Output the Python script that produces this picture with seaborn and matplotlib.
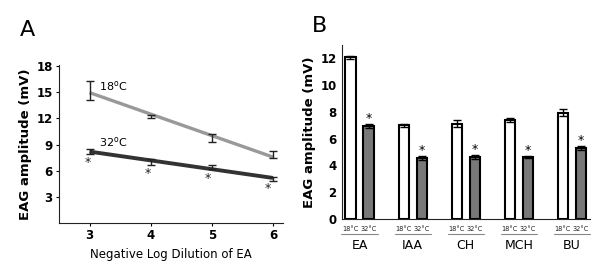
import numpy as np
import pandas as pd
import seaborn as sns
import matplotlib
matplotlib.use("Agg")
import matplotlib.pyplot as plt
import matplotlib.transforms as mtransforms
from matplotlib.container import BarContainer

# panel A: EAG vs dilution
dilution = [3, 4, 5, 6]
eag_18 = [15.25, 12.23, 9.75, 7.85]
err_18 = [1.1, 0.2, 0.45, 0.4]
eag_32 = [8.22, 7.02, 6.45, 5.05]
err_32 = [0.27, 0.33, 0.23, 0.2]
star_x_a = [2.97, 3.95, 4.93, 5.92]
star_y_a = [6.9, 5.73, 5.15, 4.0]

# panel B: odorants
odorants = ['EA', 'IAA', 'CH', 'MCH', 'BU']
temps = ['18°C', '32°C']
bar_18 = [12.08, 7.0, 7.12, 7.42, 7.95]
bar_err_18 = [0.1, 0.12, 0.25, 0.15, 0.25]
bar_32 = [6.95, 4.58, 4.65, 4.62, 5.3]
bar_err_32 = [0.15, 0.15, 0.15, 0.08, 0.15]

sns.set_style("ticks")
plt.rcParams['font.family'] = ['DejaVu Sans']
plt.rcParams.update({'text.color': 'black', 'axes.labelcolor': 'black',
                     'xtick.color': 'black', 'ytick.color': 'black',
                     'axes.edgecolor': '#222222'})

fig = plt.figure(figsize=(6, 2.79), dpi=100)

# ---------------- A ----------------
axA = fig.add_axes([0.0983, 0.2007, 0.373, 0.565])
dfA = pd.DataFrame({'x': dilution * 2, 'y': eag_18 + eag_32,
                    'temp': ['18'] * 4 + ['32'] * 4})
sns.regplot(data=dfA[dfA.temp == '18'], x='x', y='y', ax=axA, scatter=False, ci=None,
            color='#999999', line_kws={'lw': 2.4, 'solid_capstyle': 'butt'})
sns.regplot(data=dfA[dfA.temp == '32'], x='x', y='y', ax=axA, scatter=False, ci=None,
            color='#333333', line_kws={'lw': 2.8, 'solid_capstyle': 'butt'})
axA.errorbar(dilution, eag_18, yerr=err_18, fmt='none', ecolor='#222222',
             elinewidth=1.0, capsize=3, capthick=1.0)
axA.errorbar(dilution, eag_32, yerr=err_32, fmt='none', ecolor='#222222',
             elinewidth=1.0, capsize=3, capthick=1.0)
for sx, sy in zip(star_x_a, star_y_a):
    axA.text(sx, sy, '*', ha='center', va='center', fontsize=9, color='#222222')
axA.text(3.15, 15.7, '18$^{\\mathrm{o}}$C', fontsize=8, va='center', ha='left')
axA.text(3.15, 9.27, '32$^{\\mathrm{o}}$C', fontsize=8, va='center', ha='left')

axA.set_xlim(2.5, 6.16)
axA.set_ylim(0, 18.1)
axA.set_yticks([3, 6, 9, 12, 15, 18])
axA.set_xticks(dilution)
axA.tick_params(axis='both', length=2.5, width=0.8, labelsize=8.5, pad=2)
for lab in axA.get_xticklabels() + axA.get_yticklabels():
    lab.set_fontweight('bold')
axA.set_xlabel('Negative Log Dilution of EA', fontsize=8.5, labelpad=4)
axA.set_ylabel('EAG amplitude (mV)', fontsize=9.5, fontweight='bold', labelpad=3)
sns.despine(ax=axA)
for s in ['left', 'bottom']:
    axA.spines[s].set_linewidth(0.8)
fig.text(0.033, 0.87, 'A', fontsize=16)

# ---------------- B ----------------
axB = fig.add_axes([0.57, 0.215, 0.413, 0.6237])
dfB = pd.DataFrame({'odorant': odorants * 2, 'temp': [temps[0]] * 5 + [temps[1]] * 5,
                    'eag': bar_18 + bar_32})
sns.barplot(data=dfB, x='odorant', y='eag', hue='temp', order=odorants, hue_order=temps,
            palette=['white', '#787878'], width=0.68, gap=0.44, errorbar=None,
            edgecolor='black', linewidth=1.5, saturation=1, legend=False, ax=axB)
bars = [c for c in axB.containers if isinstance(c, BarContainer)]
centers = [[p.get_x() + p.get_width() / 2 for p in c.patches] for c in bars]
errs = [bar_err_18, bar_err_32]
vals = [bar_18, bar_32]
for k in range(2):
    axB.errorbar(centers[k], vals[k], yerr=errs[k], fmt='none', ecolor='black',
                 elinewidth=1.0, capsize=3, capthick=1.0)
for x, v, e in zip(centers[1], bar_32, bar_err_32):
    axB.text(x, v + e + 0.4, '*', ha='center', va='center', fontsize=9)

axB.set_xlim(-0.33, 4.34)
axB.set_ylim(0, 13)
axB.set_yticks(range(0, 13, 2))
axB.tick_params(axis='y', length=0, labelsize=8.5, pad=4)
axB.tick_params(axis='x', length=0, labelbottom=False)
for lab in axB.get_yticklabels():
    lab.set_fontweight('bold')
axB.set_xlabel('')
axB.set_ylabel('EAG amplitude (mV)', fontsize=9.5, fontweight='bold', labelpad=3)
sns.despine(ax=axB)
for s in ['left', 'bottom']:
    axB.spines[s].set_linewidth(0.8)

trans = mtransforms.blended_transform_factory(axB.transData, axB.transAxes)
for k in range(2):
    for x in centers[k]:
        axB.text(x, -0.058, temps[k], transform=trans,
                 ha='center', va='center', fontsize=4.8, color='#222222')
for i, name in enumerate(odorants):
    axB.plot([i - 0.34, i + 0.34], [-0.088, -0.088], transform=trans, color='#888888',
             lw=0.8, clip_on=False)
    axB.text(i, -0.15, name, transform=trans, ha='center', va='center', fontsize=9)
fig.text(0.52, 0.885, 'B', fontsize=16)

fig.savefig('out.png', dpi=100)
